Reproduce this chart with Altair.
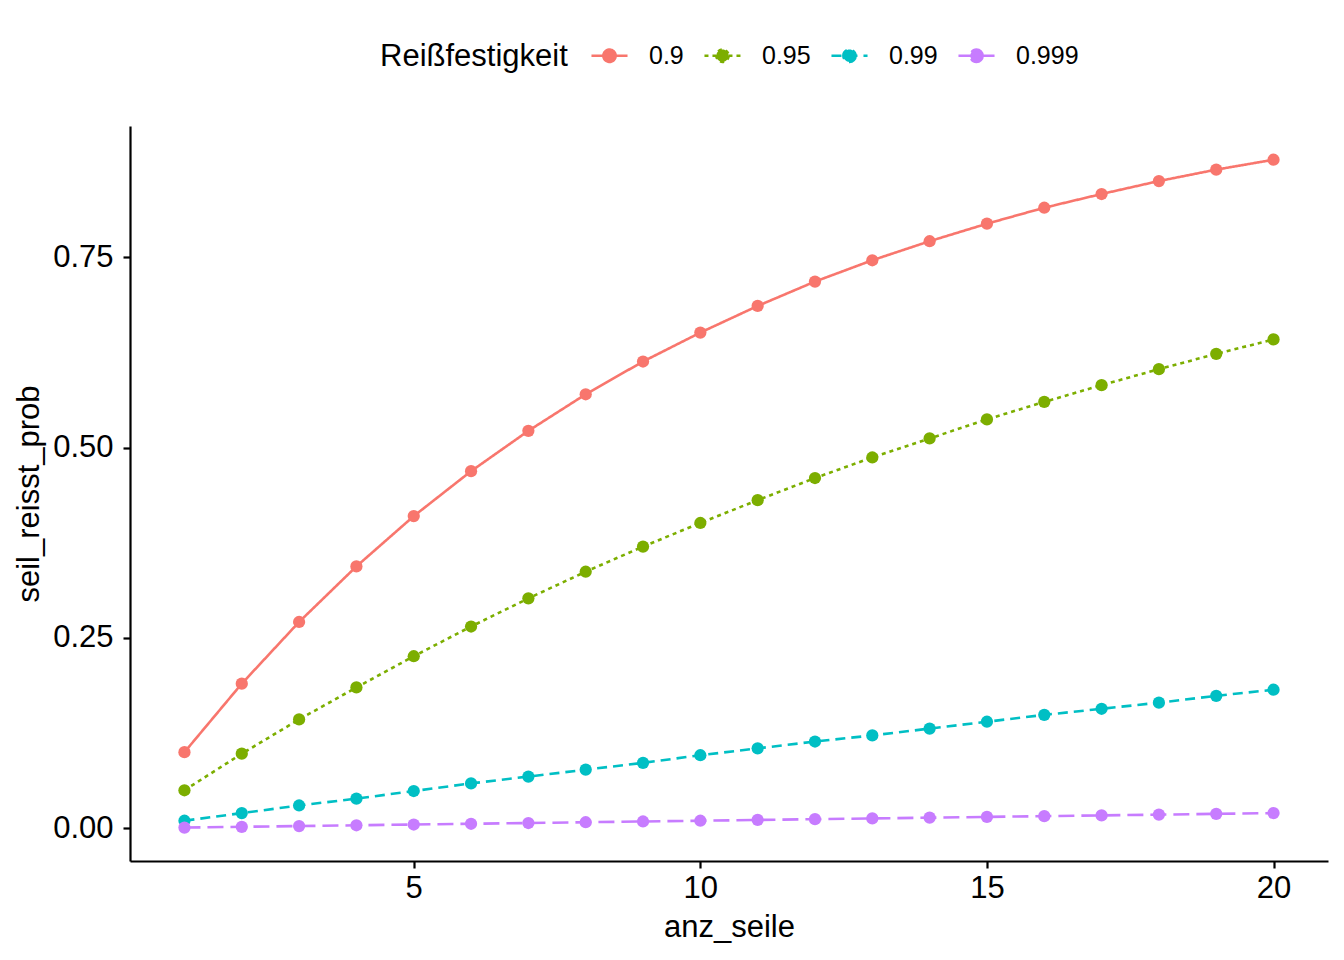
import altair as alt
import pandas as pd

anz_seile = list(range(1, 21))
groups = ["0.9", "0.95", "0.99", "0.999"]
prob_090 = [0.100, 0.190, 0.271, 0.344, 0.410, 0.469, 0.522, 0.570, 0.613, 0.651,
            0.686, 0.718, 0.746, 0.771, 0.794, 0.815, 0.833, 0.850, 0.865, 0.878]
prob_095 = [0.050, 0.098, 0.143, 0.185, 0.226, 0.265, 0.302, 0.337, 0.370, 0.401,
            0.431, 0.460, 0.487, 0.512, 0.537, 0.560, 0.582, 0.603, 0.623, 0.642]
prob_099 = [0.010, 0.020, 0.030, 0.039, 0.049, 0.059, 0.068, 0.077, 0.086, 0.096,
            0.105, 0.114, 0.122, 0.131, 0.140, 0.149, 0.157, 0.165, 0.174, 0.182]
prob_0999 = [0.001, 0.002, 0.003, 0.004, 0.005, 0.006, 0.007, 0.008, 0.009, 0.010,
             0.011, 0.012, 0.013, 0.014, 0.015, 0.016, 0.017, 0.018, 0.019, 0.020]
colors = ["#F8766D", "#7CAE00", "#00BFC4", "#C77CFF"]
dashes = [[1, 0], [4, 4], [10, 6], [16, 7]]

rows = []
for g, vals in zip(groups, [prob_090, prob_095, prob_099, prob_0999]):
    for n, v in zip(anz_seile, vals):
        rows.append({"anz_seile": n, "seil_reisst_prob": v, "Reißfestigkeit": g})
df = pd.DataFrame(rows)

FONT = "Liberation Sans"
sym_path = "M-1,0L1,0M0.34,0A0.34,0.34,0,1,1,-0.34,0A0.34,0.34,0,1,1,0.34,0Z"

color_scale = alt.Scale(domain=groups, range=colors)
dash_scale = alt.Scale(domain=groups, range=dashes)

x = alt.X("anz_seile:Q", scale=alt.Scale(domain=[0.05, 20.95], nice=False, zero=False),
          axis=alt.Axis(values=[5, 10, 15, 20], title="anz_seile"))
y = alt.Y("seil_reisst_prob:Q", scale=alt.Scale(domain=[-0.0429, 0.9223], nice=False, zero=False),
          axis=alt.Axis(values=[0, 0.25, 0.5, 0.75], format=".2f", title="seil_reisst_prob"))

legend = alt.Legend(
    orient="none", direction="horizontal", legendX=250, legendY=-90, padding=0,
    titleOrient="left", titleBaseline="line-top", titleLineHeight=10.6,
    titleAnchor="middle", titleLimit=500,
    symbolType=sym_path, symbolSize=1300, symbolStrokeWidth=2.6,
    titleFontSize=31, labelFontSize=25, titleFont=FONT, labelFont=FONT,
    titleFontWeight="normal", titleColor="black", labelColor="black",
    columnPadding=15, labelOffset=20, titlePadding=22, symbolOpacity=1,
)

lines = alt.Chart(df).mark_line(strokeWidth=2.6).encode(
    x=x, y=y,
    stroke=alt.Stroke("Reißfestigkeit:N", scale=color_scale, legend=legend),
    strokeDash=alt.StrokeDash("Reißfestigkeit:N", scale=dash_scale, legend=legend),
)
points = alt.Chart(df).mark_circle(size=150, opacity=1).encode(
    x=x, y=y,
    fill=alt.Fill("Reißfestigkeit:N", scale=color_scale, legend=legend),
)

chart = alt.layer(lines, points).properties(
    width=1198, height=735,
    padding={"left": 122, "top": 118, "right": 8, "bottom": 100},
    autosize=alt.AutoSizeParams(type="none"),
).configure_view(stroke=None).configure_axis(
    grid=False, domainColor="black", domainWidth=2.2, tickColor="black", tickWidth=2.2,
    tickSize=7, labelFont=FONT, titleFont=FONT, labelFontSize=31, titleFontSize=31,
    labelColor="black", titleColor="black", titleFontWeight="normal",
).configure_axisX(labelPadding=5, titlePadding=9).configure_axisY(labelPadding=10, titlePadding=7)

chart.save("out.html", embed_options={"renderer": "svg", "actions": False})
